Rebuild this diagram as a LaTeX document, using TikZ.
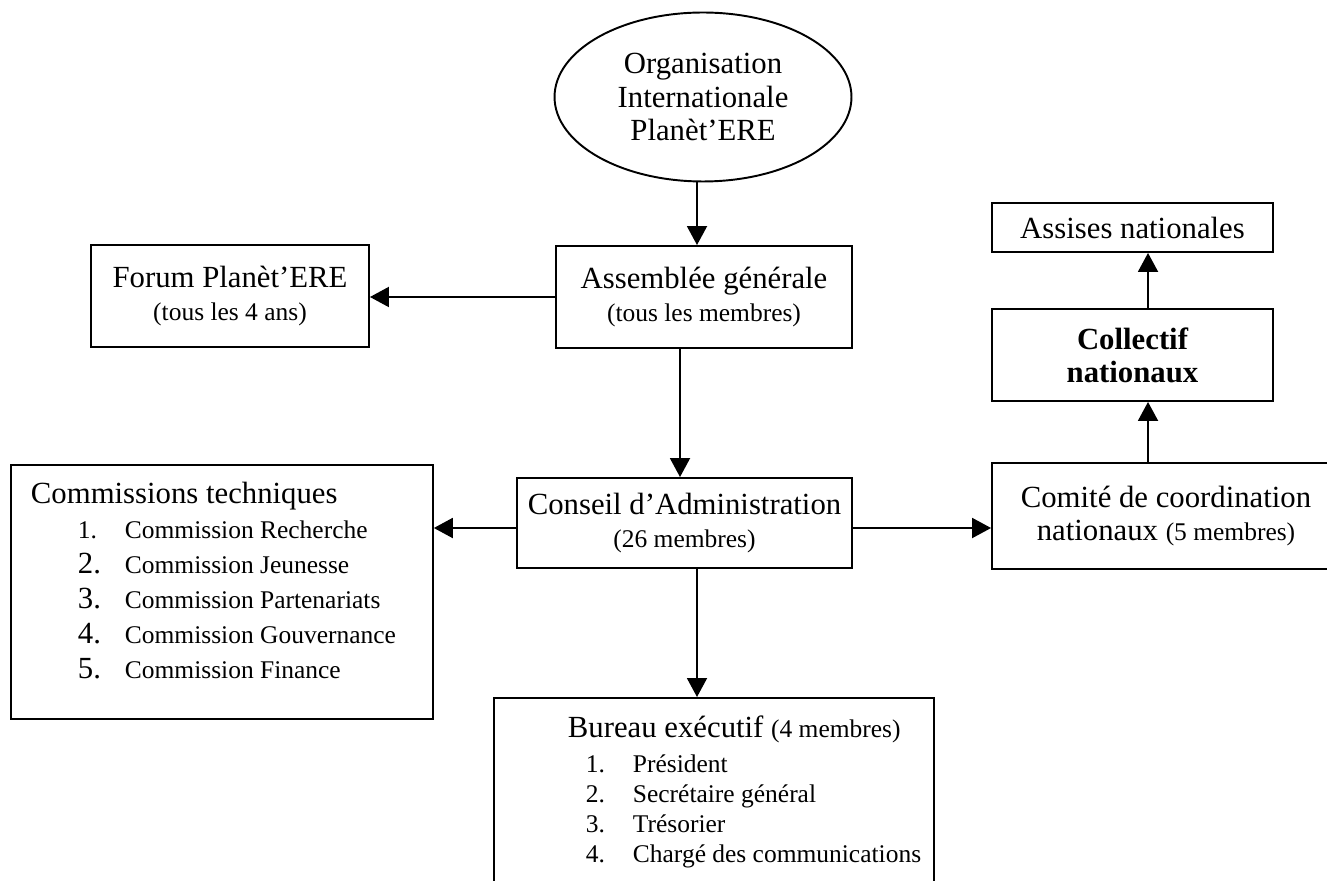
\documentclass[tikz,border=0pt]{standalone}
\usepackage{fontspec}
\setmainfont{Liberation Serif}
\usetikzlibrary{arrows.meta,shapes.geometric}
\newcommand{\txtgrand}{\fontsize{17.5}{18.8}\selectfont}
\newcommand{\txtpetit}{\fontsize{14.5}{17}\selectfont}

\begin{document}
\begin{tikzpicture}[
	             x = 0.02cm,
	             y = -0.02cm,
	  box/.style = {draw, rectangle, line width=1.1pt, inner sep=0pt, align=center, font=\txtgrand},
	  arr/.style = {-{Triangle[length=0.38cm,width=0.4cm]}, line width=1.1pt},
	]
	\clip (0,0) rectangle (1327,881);
	\node[box, ellipse, minimum width=5.94cm, minimum height=3.38cm] (org) at (703,97) {Organisation\\Internationale\\Planèt’ERE};
	\node[box, minimum width=5.92cm, minimum height=2.04cm] (ag) at (704,297) {Assemblée générale\\{\txtpetit (tous les membres)}};
	\node[box, minimum width=5.56cm, minimum height=2.04cm] (forum) at (230,296) {Forum Planèt’ERE\\{\txtpetit (tous les 4 ans)}};
	\node[box, minimum width=6.7cm, minimum height=1.8cm] (ca) at (684.5,523) {Conseil d’Administration\\{\txtpetit (26 membres)}};
	\node[box, minimum width=6.96cm, minimum height=2.12cm] (comite) at (1166,516) {Comité de coordination\\nationaux {\txtpetit (5 membres)}};
	\node[box, minimum width=5.62cm, minimum height=1.84cm, font=\txtgrand\bfseries] (coll) at (1132.5,355) {Collectif\\nationaux};
	\node[box, minimum width=5.62cm, minimum height=0.98cm] (assises) at (1132.5,227.5) {Assises nationales};
	\node[box, anchor=north west, inner xsep=0.4cm, inner ysep=0.35cm] (comm) at (10,464) {\parbox[t][4.38cm][t]{7.64cm}{\raggedright
		{\txtgrand Commissions techniques\par}
		{\txtpetit\setlength{\baselineskip}{0.7cm}
		\hspace*{0.94cm}\makebox[0.94cm][l]{1.}Commission Recherche\\
		\hspace*{0.94cm}\makebox[0.94cm][l]{\txtgrand 2.}Commission Jeunesse\\
		\hspace*{0.94cm}\makebox[0.94cm][l]{\txtgrand 3.}Commission Partenariats\\
		\hspace*{0.94cm}\makebox[0.94cm][l]{\txtgrand 4.}Commission Gouvernance\\
		\hspace*{0.94cm}\makebox[0.94cm][l]{\txtgrand 5.}Commission Finance\par}}};
	\node[box, anchor=north west, inner xsep=0.4cm, inner ysep=0.35cm] (bureau) at (493,697) {\parbox[t][4cm][t]{8.0cm}{\raggedright
		{\txtgrand\hspace*{1.08cm}Bureau exécutif {\txtpetit(4 membres)}\par}
		\vspace{0.1cm}
		{\txtpetit\setlength{\baselineskip}{0.6cm}
		\hspace*{1.44cm}\makebox[0.94cm][l]{1.}Président\\
		\hspace*{1.44cm}\makebox[0.94cm][l]{2.}Secrétaire général\\
		\hspace*{1.44cm}\makebox[0.94cm][l]{3.}Trésorier\\
		\mbox{\hspace*{1.44cm}\makebox[0.94cm][l]{4.}Chargé des communications}\par}}};
	\coordinate (axea) at (697,0);
	\coordinate (axeb) at (680,0);
	\coordinate (axec) at (1148,0);
	\coordinate (ligne) at (0,528);
	\draw[arr] (org.south -| axea) -- (ag.north -| axea);
	\draw[arr] (ag.west) -- (ag.west -| forum.east);
	\draw[arr] (ag.south -| axeb) -- (ca.north -| axeb);
	\draw[arr] (ligne -| ca.west) -- (ligne -| comm.east);
	\draw[arr] (ligne -| ca.east) -- (ligne -| comite.west);
	\draw[arr] (ca.south -| axea) -- (bureau.north -| axea);
	\draw[arr] (comite.north -| axec) -- (coll.south -| axec);
	\draw[arr] (coll.north -| axec) -- (assises.south -| axec);
\end{tikzpicture}
\end{document}
